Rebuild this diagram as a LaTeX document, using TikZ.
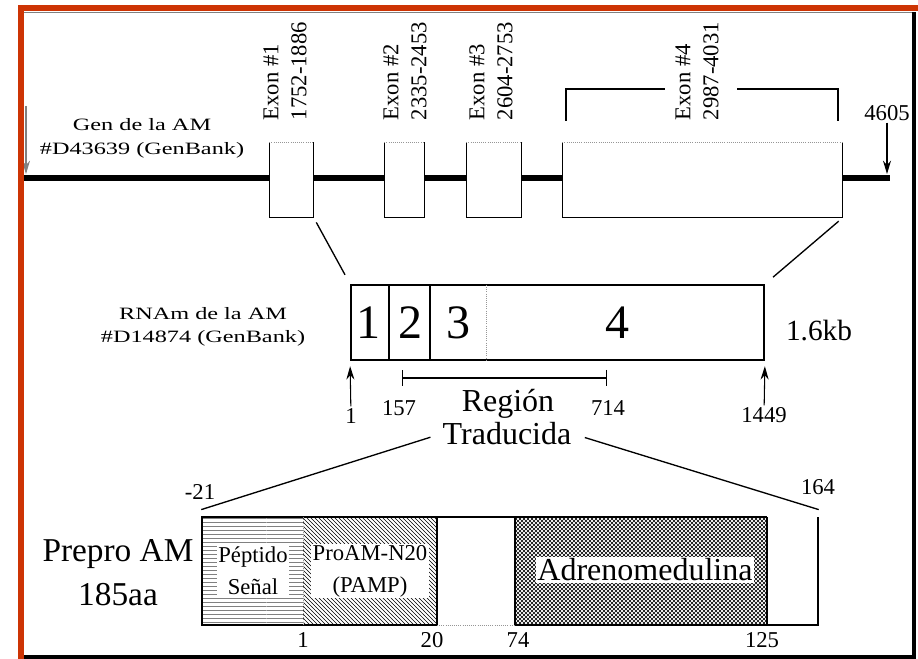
\documentclass[tikz,border=0pt]{standalone}
\usepackage{fontspec}
\setmainfont{Liberation Serif}
\newfontfamily\ancha[FakeStretch=1.4]{Liberation Serif}
\usepackage{tikz}
\usetikzlibrary{arrows.meta,patterns}
\definecolor{naranja}{RGB}{205,52,4}
\definecolor{gristenue}{RGB}{150,150,150}

\begin{document}
\begin{tikzpicture}[x=0.75pt, y=-0.75pt, line width=1.1pt,
  num/.style={font=\fontsize{17}{20}\selectfont, inner sep=1pt},
  exlab/.style={font=\fontsize{17}{21}\selectfont, rotate=90, anchor=west, align=left, inner sep=0pt},
  flecha/.style={-{Stealth[length=10pt,width=6pt]}, line width=0.8pt},
  borroso/.style={draw=gristenue, densely dotted, line width=0.6pt},
  caja/.style={fill=white, font=\fontsize{17}{24}\selectfont, align=center, inner sep=1pt}]
\useasboundingbox (0,0) rectangle (918,659);
\draw[line width=4pt] (24,178) -- (890,178);
\foreach \n/\a/\b/\lx/\rng in {1/270/313/285/1752-1886, 2/385/424/405/2335-2453,
  3/467/521/491/2604-2753, 4/563/842/697/2987-4031}{%
  \node[fill=white, inner sep=0pt, minimum width={(\b-\a)*0.75pt}, minimum height=55.5pt] (ex\n) at ({(\a+\b)/2}, 180) {};
  \draw (ex\n.north west) |- (ex\n.south east) -- (ex\n.north east);
  \draw[borroso] (ex\n.north west) -- (ex\n.north east);
  \node[exlab] at (\lx, 121) {Exon \#\n\\\rng};}
\draw (566,121) |- (665,89);
\draw (737,89) -| (838,121);
\node[font=\ancha\fontsize{13}{18}\selectfont, align=center] (gen) at (142,138) {Gen de la AM\\\#D43639 (GenBank)};
\coordinate (ini) at (26,174);
\draw[flecha, draw=gray] (26,106) -- (ini);
\node[num] (fin) at (887,113) {4605};
\coordinate (finlinea) at (887,174);
\draw[flecha] (fin) -- (finlinea);

\node[draw, line width=1.3pt, minimum width=309.75pt, minimum height=56.25pt, inner sep=0pt] (arnm) at (557.5,322.5) {};
\draw[line width=0.8pt] (389,285) -- (389,360);
\draw[line width=0.8pt] (430,285) -- (430,360);
\draw[borroso] (486,285) -- (486,360);
\foreach \k/\x in {1/368, 2/410, 3/458, 4/617}
  \node[font=\fontsize{36}{36}\selectfont] at (\x,323) {\k};
\node[font=\fontsize{22}{22}\selectfont] (kb) at (819,331) {1.6kb};
\node[font=\ancha\fontsize{13}{17}\selectfont, align=center] (rnalab) at (203,327) {RNAm de la AM\\\#D14874 (GenBank)};
\draw[line width=1pt, shorten <=4pt, shorten >=8pt] (ex1.south east) -- (arnm.north west);
\draw[line width=1pt, shorten <=4pt, shorten >=8pt] (ex4.south east) -- (arnm.north east);
\node[num] (pos1) at (351,416) {1};
\draw[flecha] (pos1) -- ([yshift=-4pt]arnm.south west);
\node[num] (pos1449) at (764,415) {1449};
\draw[flecha] (pos1449) -- ([yshift=-4pt]arnm.south east);
\draw[{Bar[width=12pt,line width=0.7pt]}-{Bar[width=12pt,line width=0.7pt]}, line width=1.4pt] (402,378) -- (607,378);
\node[num] (n157) at (399,408) {157};
\node[num] (n714) at (608,408) {714};
\node[font=\fontsize{24}{24}\selectfont, inner sep=1pt] (reg) at (508,404) {Región};
\node[font=\fontsize{24}{24}\selectfont, inner sep=1pt] (trad) at (507,434) {Traducida};

\node[minimum width=462pt, minimum height=81pt, inner sep=0pt] (prepro) at (510,571) {};
\fill[pattern=horizontal lines, pattern color=gray] (202,517) rectangle (303,625);
\fill[pattern=north west lines] (303,517) rectangle (437,625);
\fill[pattern=north east lines] (515,517) rectangle (767,625);
\fill[pattern=north west lines] (515,517) rectangle (767,625);
\draw (767,517) -- (202,517) -- (202,625) -- (437,625);
\draw[borroso] (437,625) -- (515,625);
\draw (515,625) -| (818,517);
\draw[borroso] (303,517) -- (303,625);
\draw[line width=0.8pt] (437,517) -- (437,625);
\draw[line width=0.8pt] (515,517) -- (515,625);
\draw[line width=0.8pt] (767,517) -- (767,625);
\node[caja] (senal) at (253,571) {Péptido\\Señal};
\node[caja] (pamp) at (370,571) {ProAM-N20\\(PAMP)};
\node[caja, font=\fontsize{24}{24}\selectfont] (adm) at (645,570) {Adrenomedulina};
\node[font=\fontsize{25}{33}\selectfont, align=center] (prepro-lab) at (118,573) {Prepro AM\\185aa};
\foreach \v/\x in {1/303, 20/432, 74/518, 125/762}
  \node[num] at (\x,640) {\v};
\node[num] (m21) at (200,492) {-21};
\node[num] (n164) at (818,487) {164};
\draw[line width=1pt, shorten <=8pt] (trad.west) -- ([yshift=5pt]prepro.north west);
\draw[line width=1pt, shorten <=9pt] (trad.east) -- ([yshift=5pt]prepro.north east);

\fill[naranja] (18,5) rectangle (918,11);
\fill[naranja] (18,5) rectangle (24,659);
\fill (912,12) rectangle (916,659);
\fill (24,655) rectangle (916,659);
\draw[gray, line width=0.6pt] (24,12) -- (912,12);
\end{tikzpicture}
\end{document}
